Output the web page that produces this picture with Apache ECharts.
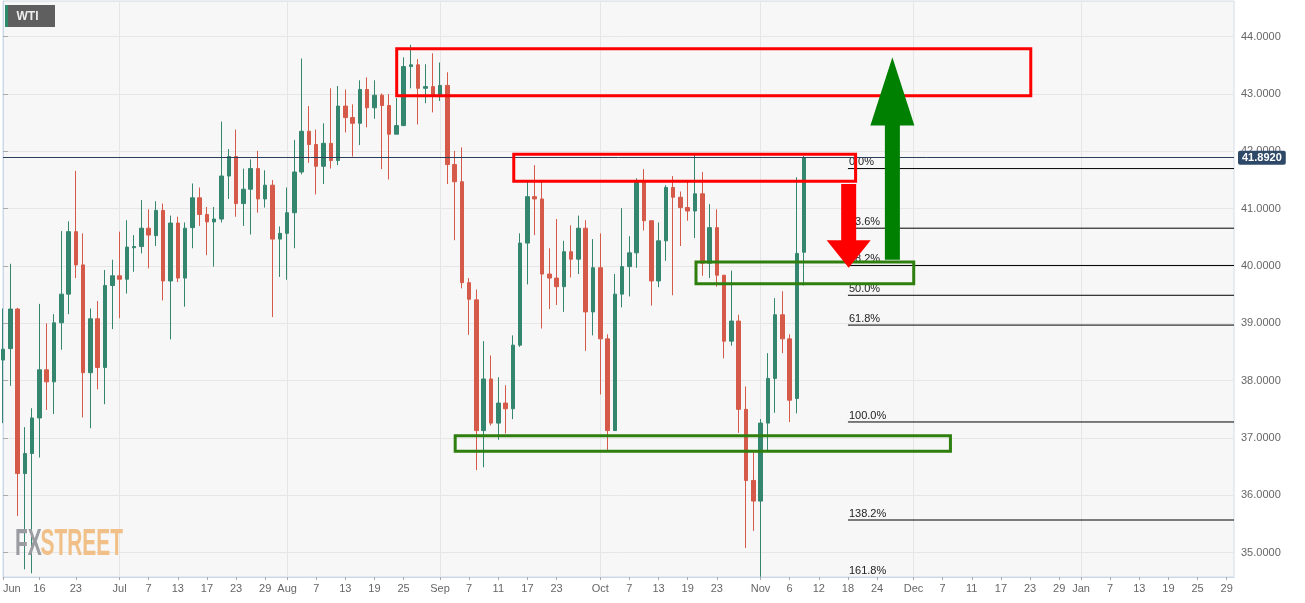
<!DOCTYPE html>
<html>
<head>
<meta charset="utf-8">
<script src="https://cdn.jsdelivr.net/npm/echarts@6/dist/echarts.min.js"></script>
<style>
html,body{margin:0;padding:0;background:#ffffff;}
#chart{width:1305px;height:603px;}
</style>
</head>
<body>
<div id="chart"></div>
<script>
// ---------------- DATA ----------------
const firstTradingDay = '2020-06-09';   // first weekday on the axis
const axisDayCount = 170;               // weekdays shown (to 2021-02-01)

const openPrices = [38.36,38.56,39.25,36.38,36.73,37.35,38.19,37.98,39.01,39.51,
40.60,40.02,38.14,39.08,38.23,39.66,39.83,39.77,40.32,40.34,
40.66,40.53,40.97,39.74,40.75,39.79,40.67,41.19,40.90,40.77,
40.82,41.57,41.91,41.09,41.34,41.70,41.17,41.41,40.47,40.57,
40.93,41.64,42.35,42.12,41.74,42.14,41.84,42.79,42.59,42.49,
43.08,42.76,42.98,42.80,42.30,42.45,43.48,43.51,43.10,43.13,
42.98,43.15,41.77,41.47,39.71,39.41,37.13,38.03,37.26,37.61,
37.51,38.62,40.40,41.21,41.17,39.86,39.79,39.64,40.25,40.12,
40.66,39.20,39.97,38.73,37.13,39.51,39.99,40.23,41.46,40.79,
39.74,40.44,41.37,41.20,41.02,40.96,41.26,40.05,40.67,39.84,
38.69,39.04,37.50,36.26,35.90,37.26,38.04,39.15,38.73,37.69,
40.24];
const closePrices = [38.55,39.25,36.38,36.73,37.35,38.19,37.98,39.01,39.51,40.60,
40.02,38.14,39.08,38.23,39.66,39.83,39.77,40.33,40.34,40.66,
40.54,40.97,39.74,40.75,39.79,40.66,41.19,40.90,40.77,40.82,
41.57,41.91,41.09,41.34,41.70,41.17,41.41,40.47,40.57,40.93,
41.64,42.35,42.12,41.74,42.14,41.84,42.79,42.59,42.49,43.08,
42.76,42.98,42.80,42.30,42.45,43.48,43.51,43.10,43.13,42.98,
43.15,41.77,41.47,39.71,39.42,37.13,38.03,37.26,37.61,37.51,
38.62,40.40,41.21,41.17,39.86,39.79,39.64,40.25,40.12,40.66,
39.20,39.97,38.73,37.13,39.51,39.99,40.23,41.46,40.79,39.74,
40.44,41.37,41.20,41.02,40.96,41.26,40.05,40.67,39.84,38.69,
39.04,37.50,36.26,35.90,37.26,38.04,39.15,38.73,37.66,40.22,
41.892];
const lowPrices = [37.26,37.91,35.64,34.71,34.64,36.66,37.49,37.42,38.54,39.16,
39.79,37.36,37.17,37.85,37.59,38.90,39.09,39.52,39.90,40.22,
39.96,40.35,39.40,38.72,39.72,39.29,40.31,40.70,40.19,39.99,
40.76,41.17,40.86,40.70,40.55,40.93,41.02,39.11,39.81,39.76,
40.31,41.60,41.80,41.25,41.43,41.70,41.76,42.33,41.91,42.11,
42.42,42.57,41.69,41.51,42.30,42.44,43.10,42.47,42.84,42.68,
42.88,41.43,40.45,39.61,38.80,36.44,36.49,37.22,36.97,37.08,
37.33,38.59,39.68,40.54,38.91,39.25,39.32,39.20,39.80,39.86,
38.52,38.79,37.76,36.79,37.13,39.28,39.47,39.97,40.62,39.31,
39.63,40.09,39.49,40.35,40.79,40.49,39.83,39.79,39.64,38.39,
38.61,37.09,35.08,35.38,34.58,36.79,37.44,38.48,37.28,37.43,
39.66];
const highPrices = [39.26,40.04,39.27,37.19,37.52,39.34,39.00,39.16,40.61,40.78,
41.66,40.57,39.26,39.39,39.93,40.11,40.60,40.80,40.54,41.15,
40.99,41.13,41.09,40.88,40.86,40.76,41.44,41.37,41.03,41.03,
42.52,42.04,42.38,41.70,41.86,42.01,41.67,41.50,40.69,41.37,
42.20,43.62,42.79,42.38,42.49,43.10,43.14,43.08,42.82,43.24,
43.29,43.24,43.01,43.00,42.93,43.64,43.86,43.61,43.52,43.71,
43.55,43.38,42.01,42.07,39.79,39.59,38.69,38.44,38.06,37.92,
38.79,40.57,41.48,41.76,41.50,40.31,40.82,40.44,40.71,40.88,
40.80,40.47,40.57,38.81,39.86,41.01,40.52,41.53,41.69,40.79,
40.76,41.41,41.57,41.30,41.47,41.94,41.64,41.08,40.99,39.84,
39.92,39.15,37.90,36.75,37.33,38.48,39.44,39.56,38.81,41.55,
41.92];

const lastPrice = 41.892;

// x-axis tick labels (index into the weekday axis -> text)
const tickIndices = [0,5,10,16,20,24,28,32,36,39,43,47,51,55,60,64,68,72,76,82,86,90,94,98,
104,108,112,116,120,125,129,133,137,141,145,148,152,156,160,164,168];
const tickTexts = ['Jun','16','23','Jul','7','13','17','23','29','Aug','7','13','19','25','Sep','7','11','17','23','Oct','7','13','19','23',
'Nov','6','12','18','24','Dec','7','11','17','23','29','Jan','7','13','19','25','29'];
const monthStartIndices = [16,39,60,82,104,125,148];

// price axis range
const priceMin = 34.576;
const priceMax = 44.623;

// Fibonacci retracement
const fibLabels = ['0.0%','23.6%','38.2%','50.0%','61.8%','100.0%','138.2%','161.8%'];
const fibLevels = [41.70,40.66,40.01,39.49,38.97,37.28,35.57,34.55];
const fibFromIndex = 116;
const fibToIndex = 169;

// annotation boxes: [fromIndex, topPrice, toIndex, bottomPrice]
const boxFrom   = [54.05, 70.12, 95.14, 62.08];
const boxTop    = [43.79, 41.95, 40.07, 37.04];
const boxTo     = [141.1, 117.05, 125.03, 130.07];
const boxBottom = [42.97, 41.48, 39.69, 36.77];
const boxColors = ['#ff0000','#ff0000','#2f7f0f','#2f7f0f'];

// arrows: [index, tailPrice, headBasePrice, tipPrice]
const arrowIndex = [116.1, 122.1];
const arrowTail  = [41.43, 40.11];
const arrowHeadBase = [40.45, 42.45];
const arrowTip   = [39.97, 43.64];
const arrowColors = ['#ff0000','#008000'];

// ---------------- BUILD ----------------
function weekdays(start, n) {
  const out = [];
  const d = new Date(start + 'T00:00:00Z');
  while (out.length < n) {
    const w = d.getUTCDay();
    if (w !== 0 && w !== 6) out.push(d.toISOString().slice(0, 10));
    d.setUTCDate(d.getUTCDate() + 1);
  }
  return out;
}
const categories = weekdays(firstTradingDay, axisDayCount);
const tickMap = {};
tickIndices.forEach((i, k) => { tickMap[i] = tickTexts[k]; });
const tickSet = new Set(tickIndices);
const monthSet = new Set(monthStartIndices);

const candleData = openPrices.map((o, i) => [o, closePrices[i], lowPrices[i], highPrices[i]]);

const FONT = "'Liberation Sans', Arial, sans-serif";
const UP = '#35866f';
const DOWN = '#d65a49';

const chart = echarts.init(document.getElementById('chart'), null, {renderer: 'canvas'});

const option = {
  animation: false,
  backgroundColor: '#ffffff',
  grid: {
    left: 0, top: 1, right: 71, bottom: 26,
    show: true, backgroundColor: '#f7f7f7', borderColor: '#d3dae8', borderWidth: 1
  },
  xAxis: [{
    type: 'category',
    data: categories,
    boundaryGap: false,
    axisLine: {show: true, lineStyle: {color: '#ccd6eb', width: 1}},
    axisTick: {show: true, interval: (i) => tickSet.has(i), length: 3, lineStyle: {color: '#aaaaaa'}},
    axisLabel: {
      interval: (i) => tickSet.has(i),
      formatter: (v, i) => tickMap[i] || '',
      color: '#666666', fontSize: 11, fontFamily: FONT, margin: 6,
      alignMinLabel: 'left'
    },
    splitLine: {show: true, interval: (i) => monthSet.has(i), lineStyle: {color: '#e6e6e6', width: 1}}
  }, {
    type: 'value', min: 0, max: axisDayCount - 1, show: false
  }],
  yAxis: [{
    type: 'value',
    position: 'right',
    min: priceMin, max: priceMax,
    splitNumber: 10,
    axisLine: {show: true, lineStyle: {color: '#ccd6eb'}},
    axisTick: {show: true, length: 5, lineStyle: {color: '#aaaaaa'}},
    axisLabel: {
      color: '#666666', fontSize: 11, fontFamily: FONT, margin: 7,
      showMinLabel: false, showMaxLabel: false,
      formatter: (v) => v.toFixed(4)
    },
    splitLine: {show: true, lineStyle: {color: '#e6e6e6', width: 1}}
  }],
  series: [{
    type: 'candlestick',
    xAxisIndex: 0, yAxisIndex: 0,
    data: candleData,
    barWidth: 4,
    itemStyle: {color: UP, color0: DOWN, borderColor: UP, borderColor0: DOWN, borderWidth: 1},
    markLine: {
      silent: true, symbol: 'none', animation: false,
      lineStyle: {color: '#2b3f5d', width: 1, type: 'solid'},
      label: {
        show: true, position: 'end', distance: 4,
        formatter: () => lastPrice.toFixed(4),
        color: '#ffffff', fontWeight: 'bold', fontSize: 11, fontFamily: FONT,
        backgroundColor: '#2e4868', padding: [2, 4, 1, 4], borderRadius: 2
      },
      data: [{yAxis: lastPrice}]
    }
  }, {
    // Fibonacci levels
    type: 'custom',
    xAxisIndex: 1, yAxisIndex: 0,
    silent: true, z: 4,
    data: fibLevels.map((lv, i) => [fibFromIndex, lv, fibToIndex]),
    renderItem: function (params, api) {
      const p0 = api.coord([api.value(0), api.value(1)]);
      const p1 = api.coord([api.value(2), api.value(1)]);
      const cs = params.coordSys;
      const children = [];
      if (p0[1] <= cs.y + cs.height) {
        children.push({type: 'line', shape: {x1: p0[0], y1: p0[1], x2: p1[0], y2: p1[1]},
          style: {stroke: '#000000', lineWidth: 1}});
      }
      children.push({type: 'text', x: p0[0] + 1, y: Math.min(p0[1], cs.y + cs.height) - 1,
        style: {text: fibLabels[params.dataIndex], fill: '#222222', font: '11px ' + FONT,
          align: 'left', verticalAlign: 'bottom'}});
      return {type: 'group', children: children};
    }
  }, {
    // boxes
    type: 'custom',
    xAxisIndex: 1, yAxisIndex: 0,
    silent: true, z: 6,
    data: boxFrom.map((f, i) => [f, boxTop[i], boxTo[i], boxBottom[i]]),
    renderItem: function (params, api) {
      const p0 = api.coord([api.value(0), api.value(1)]);
      const p1 = api.coord([api.value(2), api.value(3)]);
      return {type: 'rect',
        shape: {x: p0[0], y: p0[1], width: p1[0] - p0[0], height: p1[1] - p0[1]},
        style: {fill: 'none', stroke: boxColors[params.dataIndex], lineWidth: 3}};
    }
  }, {
    // arrows
    type: 'custom',
    xAxisIndex: 1, yAxisIndex: 0,
    silent: true, z: 7,
    data: arrowIndex.map((x, i) => [x, arrowTail[i], arrowHeadBase[i], arrowTip[i]]),
    renderItem: function (params, api) {
      const t = api.coord([api.value(0), api.value(1)]);
      const hb = api.coord([api.value(0), api.value(2)]);
      const tp = api.coord([api.value(0), api.value(3)]);
      const x = t[0], sw = 7.5, hw = 22;
      return {type: 'polygon',
        shape: {points: [[x - sw, t[1]], [x - sw, hb[1]], [x - hw, hb[1]], [x, tp[1]],
          [x + hw, hb[1]], [x + sw, hb[1]], [x + sw, t[1]]]},
        style: {fill: arrowColors[params.dataIndex]}};
    }
  }],
  graphic: [
    {type: 'rect', x: 5, y: 5, shape: {width: 50, height: 22}, style: {fill: '#5f5f5f'}, z: 10},
    {type: 'rect', x: 5, y: 5, shape: {width: 3, height: 22}, style: {fill: '#2e8a6c'}, z: 11},
    {type: 'text', x: 16.5, y: 16.5, z: 11,
      style: {text: 'WTI', fill: '#eeeeee', font: 'bold 12px ' + FONT, align: 'left', verticalAlign: 'middle'}},
    {type: 'text', x: 15, y: 545, scaleX: 0.565, z: 3,
      style: {text: 'FX', fill: '#9a9ca1', font: 'bold 37px ' + FONT, align: 'left', verticalAlign: 'middle'}},
    {type: 'text', x: 40.5, y: 545, scaleX: 0.565, z: 3,
      style: {text: 'STREET', fill: '#f0c088', font: 'bold 37px ' + FONT, align: 'left', verticalAlign: 'middle'}}
  ]
};
chart.setOption(option);
</script>
</body>
</html>
